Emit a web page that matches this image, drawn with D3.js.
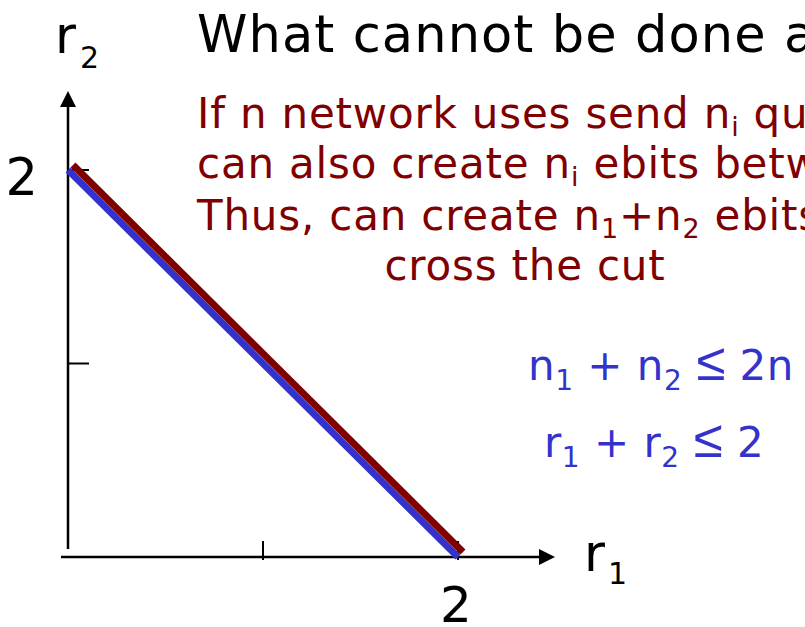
<!DOCTYPE html>
<html>
<head>
<meta charset="utf-8">
<script src="https://cdn.jsdelivr.net/npm/d3@7"></script>
<style>
  html, body { margin: 0; padding: 0; background: #fff; overflow: hidden; }
  svg { display: block; }
</style>
</head>
<body>
<svg id="chart" width="805" height="627"></svg>
<script>
// ---------- data ----------
const xDomain = [0, 2];
const yDomain = [0, 2];
const xTicks = [1, 2];
const yTicks = [1, 2];
const xTickLabels = ["", "2"];
const yTickLabels = ["", "2"];
const boundaryBlue = [[0, 2], [2, 0]];   // r1 + r2 = 2 (blue)
const boundaryRed  = [[0, 2], [2, 0]];   // n1 + n2 = 2n cut bound (red)
const xAxisLabel = "r_1";
const yAxisLabel = "r_2";
const titleText = "What cannot be done alone";
const redLines = [
  "If n network uses send n_i qubits",
  "can also create n_i ebits between",
  "Thus, can create n_1+n_2 ebits that",
  "cross the cut"
];
const blueLines = [
  "n_1 + n_2 \u2264 2n",
  "r_1 + r_2 \u2264 2"
];

// ---------- setup ----------
const svg = d3.select("#chart");
const FONT = "'DejaVu Sans', Verdana, sans-serif";
const RED = "#800000";
const BLUE = "#3333cc";

const x = d3.scaleLinear().domain(xDomain).range([68, 458]);
const y = d3.scaleLinear().domain(yDomain).range([557, 170]);

// helper: text with subscripts encoded as _c
function richText(g, str, opts) {
  const t = g.append("text")
    .attr("x", opts.x).attr("y", opts.y)
    .attr("font-family", FONT)
    .attr("font-size", opts.size)
    .attr("fill", opts.fill)
    .attr("letter-spacing", opts.ls || 0)
    .attr("text-anchor", opts.anchor || "start")
    .attr("xml:space", "preserve");
  const parts = str.split(/_(\w)/);
  let prevSub = false;
  parts.forEach((p, i) => {
    const isSub = i % 2 === 1;
    if (p === "") return;
    // split out the "≤" sign so it can use a glyph with a horizontal bar
    const pieces = isSub ? [p] : p.split(/(\u2264)/).filter(s => s !== "");
    pieces.forEach((piece, j) => {
      const ts = t.append("tspan").text(piece);
      if (piece === "\u2264") {
        ts.attr("font-family", "'Liberation Sans', Arial, sans-serif")
          .attr("font-size", Math.round(opts.size * 1.25));
      }
      if (j === 0) {
        if (isSub) ts.attr("font-size", opts.subSize).attr("dy", opts.subOff);
        else if (prevSub) ts.attr("dy", -opts.subOff);
      }
      if (isSub && opts.subDx) ts.attr("dx", opts.subDx);
    });
    prevSub = isSub;
  });
  return t;
}

// ---------- axes ----------
const axes = svg.append("g").attr("stroke", "#000").attr("stroke-width", 2.5);
// y axis line
axes.append("line")
  .attr("x1", x(0)).attr("x2", x(0))
  .attr("y1", 104).attr("y2", y(0) - 8);
// x axis line
axes.append("line")
  .attr("x1", x(0) - 7).attr("x2", 542)
  .attr("y1", y(0)).attr("y2", y(0));

// arrow heads
svg.append("path")
  .attr("d", d3.line()([[x(0), 91], [x(0) - 8, 107], [x(0) + 8, 107]]) + "Z")
  .attr("fill", "#000");
svg.append("path")
  .attr("d", d3.line()([[555, y(0)], [539, y(0) - 8], [539, y(0) + 8]]) + "Z")
  .attr("fill", "#000");

// ticks (y: inward to the right, x: across the axis)
svg.append("g").selectAll("line").data(yTicks).join("line")
  .attr("x1", x(0)).attr("x2", x(0) + 21)
  .attr("y1", d => y(d)).attr("y2", d => y(d))
  .attr("stroke", "#000").attr("stroke-width", 2);
svg.append("g").selectAll("line").data(xTicks).join("line")
  .attr("x1", d => x(d)).attr("x2", d => x(d))
  .attr("y1", y(0) - 16).attr("y2", y(0) + 3)
  .attr("stroke", "#000").attr("stroke-width", 2);

// tick labels
svg.append("g").selectAll("text").data(yTicks).join("text")
  .attr("x", 38).attr("y", d => y(d) + 25)
  .attr("text-anchor", "end")
  .attr("font-family", FONT).attr("font-size", 51).attr("fill", "#000")
  .text((d, i) => yTickLabels[i]);
svg.append("g").selectAll("text").data(xTicks).join("text")
  .attr("x", d => x(d) - 2).attr("y", 622)
  .attr("text-anchor", "middle")
  .attr("font-family", FONT).attr("font-size", 50).attr("fill", "#000")
  .text((d, i) => xTickLabels[i]);

// axis labels
richText(svg, yAxisLabel, { x: 55, y: 53, size: 51, subSize: 30, subOff: 15, subDx: 4, fill: "#000" });
richText(svg, xAxisLabel, { x: 584, y: 571, size: 51, subSize: 30, subOff: 13, subDx: 3, fill: "#000" });

// ---------- boundary lines ----------
const line = d3.line().x(d => x(d[0])).y(d => y(d[1]));
svg.append("path")
  .attr("d", line(boundaryBlue))
  .attr("fill", "none").attr("stroke", BLUE).attr("stroke-width", 7);
svg.append("path")
  .attr("d", line(boundaryRed))
  .attr("transform", "translate(5,-5)")
  .attr("fill", "none").attr("stroke", RED).attr("stroke-width", 7);

// ---------- title ----------
svg.append("text")
  .attr("x", 197).attr("y", 52)
  .attr("font-family", FONT).attr("font-size", 51).attr("fill", "#000")
  .attr("letter-spacing", 1.1)
  .text(titleText);

// ---------- red explanation ----------
const redY = [128, 178, 230, 280];
redLines.forEach((s, i) => {
  const last = i === redLines.length - 1;
  richText(svg, s, {
    x: last ? 525 : 197, y: redY[i], anchor: last ? "middle" : "start",
    size: 42, subSize: 27, subOff: 8, ls: 0.8, fill: RED
  });
});

// ---------- blue inequalities ----------
const blueX = [528, 544];
const blueY = [380, 457];
blueLines.forEach((s, i) => {
  richText(svg, s, { x: blueX[i], y: blueY[i], size: 42, subSize: 28, subOff: 10, ls: 0.5, fill: BLUE });
});
</script>
</body>
</html>
